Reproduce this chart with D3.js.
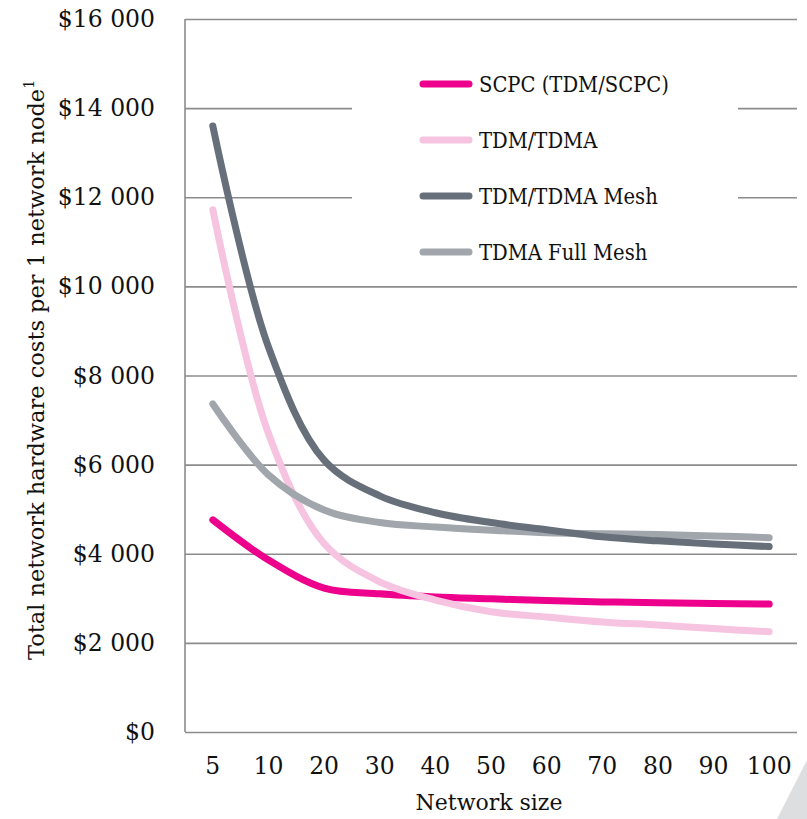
<!DOCTYPE html>
<html>
<head>
<meta charset="utf-8">
<script src="https://cdn.jsdelivr.net/npm/d3@7"></script>
<style>
  html, body { margin: 0; padding: 0; background: #fff; }
  svg { display: block; font-family: "DejaVu Serif", serif; }
</style>
</head>
<body>
<svg id="chart" width="807" height="819"></svg>
<script>
const categories = ["5", "10", "20", "30", "40", "50", "60", "70", "80", "90", "100"];
const seriesNames = ["SCPC (TDM/SCPC)", "TDM/TDMA", "TDM/TDMA Mesh", "TDMA Full Mesh"];
const scpc      = [4760, 3860, 3230, 3100, 3030, 2990, 2950, 2920, 2900, 2885, 2870];
const tdmTdma   = [11720, 6700, 4230, 3370, 2960, 2700, 2580, 2470, 2400, 2320, 2250];
const tdmaMesh  = [13600, 8640, 6100, 5300, 4920, 4700, 4540, 4380, 4290, 4220, 4160];
const fullMesh  = [7360, 5770, 4980, 4700, 4600, 4530, 4470, 4450, 4430, 4400, 4360];
const yTicks = [0, 2000, 4000, 6000, 8000, 10000, 12000, 14000, 16000];
const colors = ["#EC008C", "#F6C3E1", "#67707A", "#A0A6AC"];
const xTitle = "Network size";
const yTitle = "Total network hardware costs per 1 network node";

const series = [scpc, tdmTdma, tdmaMesh, fullMesh];

const svg = d3.select("#chart");
const mLeft = 185, mRight = 797, mTop = 19, mBottom = 732;

const x = d3.scaleBand().domain(categories).range([mLeft, mRight]);
const y = d3.scaleLinear().domain([0, 16000]).range([mBottom, mTop]);

const loc = d3.formatLocale({decimal: ".", thousands: "\u00a0", grouping: [3], currency: ["$", ""]});
const fmt = loc.format("$,");

// grid lines
const grid = svg.append("g").attr("transform", `translate(${mLeft},0)`)
  .call(d3.axisLeft(y).tickValues(yTicks).tickSize(-(mRight - mLeft)).tickFormat(""));
grid.select(".domain").remove();
grid.selectAll(".tick line").attr("stroke", "#8c8c8c").attr("stroke-width", 1.6);

// y axis labels
const yAx = svg.append("g").attr("transform", `translate(${mLeft},0)`)
  .call(d3.axisLeft(y).tickValues(yTicks).tickSize(0).tickPadding(30).tickFormat(fmt));
yAx.select(".domain").remove();
yAx.selectAll("text").attr("font-family", "DejaVu Serif").attr("font-size", 23.5).attr("fill", "#111");

// vertical axis line
svg.append("line").attr("x1", mLeft).attr("x2", mLeft).attr("y1", y(16000)).attr("y2", y(0))
  .attr("stroke", "#8c8c8c").attr("stroke-width", 1.6);

// x axis labels
const xAx = svg.append("g").attr("transform", `translate(0,${mBottom})`)
  .call(d3.axisBottom(x).tickSize(0).tickPadding(25));
xAx.select(".domain").remove();
xAx.selectAll("text").attr("font-family", "DejaVu Serif").attr("font-size", 23.5).attr("fill", "#111");

// legend background (covers grid lines)
svg.append("rect").attr("x", 352).attr("y", 55).attr("width", 386).attr("height", 218).attr("fill", "#fff");

// lines
const line = d3.line()
  .x((d, i) => x(categories[i]) + x.bandwidth() / 2)
  .y(d => y(d))
  .curve(d3.curveCatmullRom.alpha(0.5));

const drawOrder = [0, 1, 3, 2];
drawOrder.forEach(k => {
  svg.append("path").datum(series[k]).attr("d", line)
    .attr("fill", "none").attr("stroke", colors[k]).attr("stroke-width", 7)
    .attr("stroke-linecap", "round").attr("stroke-linejoin", "round");
});

// legend
const legend = svg.append("g");
seriesNames.forEach((name, i) => {
  const ly = 84 + i * 56;
  legend.append("line").attr("x1", 423).attr("x2", 469).attr("y1", ly).attr("y2", ly)
    .attr("stroke", colors[i]).attr("stroke-width", 7).attr("stroke-linecap", "round");
  legend.append("text").attr("transform", `translate(479,${ly}) scale(0.87,1)`)
    .attr("dy", "0.36em")
    .attr("font-size", 22.5).attr("fill", "#111").text(name);
});

// axis titles
svg.append("text").attr("x", x("50") + x.bandwidth() / 2 - 2).attr("y", 810)
  .attr("text-anchor", "middle").attr("font-size", 22)
  .attr("fill", "#111").text(xTitle);

const yt = svg.append("text").attr("transform", "translate(44,370) rotate(-90)")
  .attr("text-anchor", "middle").attr("font-size", 22.5)
  .attr("fill", "#111");
yt.append("tspan").text(yTitle);
yt.append("tspan").attr("font-size", 14).attr("dy", "-0.7em").text("1");

// decorative corner triangle
svg.append("polygon").attr("points", "807,760 807,819 777,819").attr("fill", "#DDDEE0");
</script>
</body>
</html>
